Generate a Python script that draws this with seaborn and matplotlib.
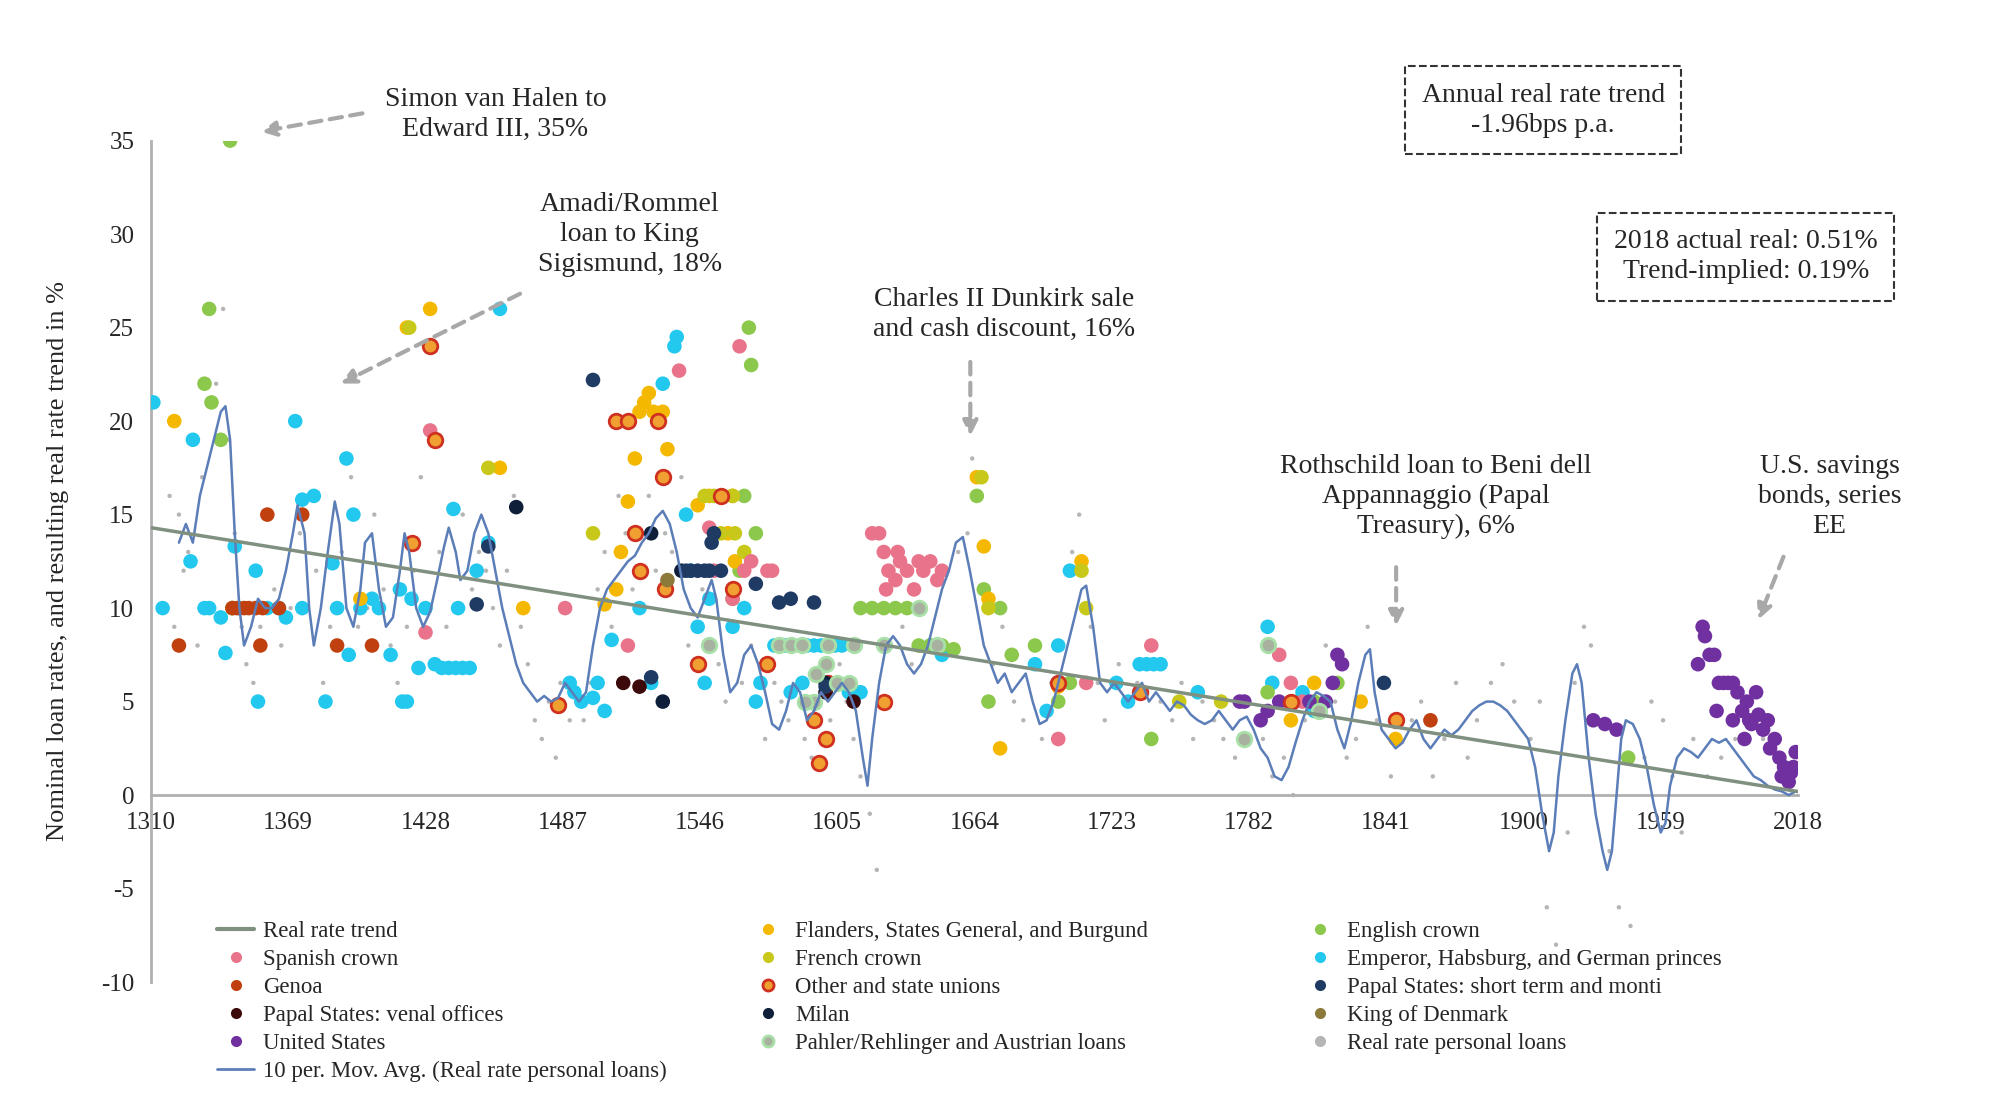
import matplotlib
matplotlib.use("Agg")
import matplotlib.pyplot as plt
import seaborn as sns
import pandas as pd
from matplotlib.lines import Line2D

sns.set_theme(style="white")
plt.rcParams['font.family'] = ['Liberation Serif', 'DejaVu Serif']
plt.rcParams['axes.unicode_minus'] = False

# ---------------- data ----------------
trend_years = [1310, 2018]
trend_vals = [14.3, 0.19]

ma_years = [1322,1325,1328,1331,1334,1337,1340,1342,1344,1346,1348,1350,1353,1356,1359,1362,1365,1368,1371,1373,1376,1378,1380,1383,1386,1389,1391,1394,1397,1400,1402,1405,1408,1411,1414,1417,1419,1421,1424,1427,1430,1433,1436,1438,1441,1443,1446,1449,1452,1455,1458,1461,1464,1467,1470,1473,1476,1479,1482,1485,1488,1491,1494,1497,1500,1503,1506,1509,1512,1515,1518,1521,1524,1527,1530,1533,1536,1539,1542,1545,1548,1551,1553,1556,1559,1562,1565,1568,1571,1574,1577,1580,1583,1586,1589,1592,1595,1598,1601,1604,1607,1610,1613,1616,1618,1620,1623,1626,1629,1632,1635,1638,1641,1644,1647,1650,1653,1656,1659,1662,1665,1668,1671,1674,1677,1680,1683,1686,1689,1692,1695,1698,1701,1704,1707,1710,1712,1715,1718,1721,1724,1727,1730,1733,1736,1739,1742,1745,1748,1751,1754,1757,1760,1763,1766,1769,1772,1775,1778,1781,1784,1787,1790,1793,1796,1799,1802,1805,1808,1811,1814,1817,1820,1823,1826,1829,1832,1834,1836,1839,1842,1845,1848,1851,1854,1857,1860,1863,1866,1869,1872,1875,1878,1881,1884,1887,1890,1893,1896,1899,1902,1905,1908,1911,1913,1915,1918,1921,1923,1925,1928,1931,1934,1936,1938,1940,1942,1944,1947,1950,1953,1956,1959,1961,1963,1966,1969,1972,1975,1978,1981,1984,1987,1990,1993,1996,1999,2002,2005,2008,2011,2014,2017]
ma_vals = [13.5,14.5,13.5,16,17.5,19,20.5,20.8,19,14,10,8,9,10.5,10,10,10.5,12,14,15.5,14,10,8,10,13,15.7,14.5,10,9,11,13.5,14,11,9,9.5,12,14,13,10,9,9.8,11.5,13.3,14.3,13,11.5,12,14,15,14,12,10,8.5,7,6,5.5,5,5.3,5,5.2,6,5.5,5,5.5,8,10,11,11.5,12,12.5,12.8,13.5,14,14.8,15.2,14.5,13,11,10,9.5,10.5,11.5,10.5,7.5,5.5,6,7.5,8,7,5.5,3.8,3.5,4.5,6,5.5,4,4.5,5.5,5,5.5,6,5.5,4.5,2,0.5,3,6,8,8.5,8,7,6.5,7,8,9.5,11,12,13.5,13.8,12,10,8,7,6,6.5,5.5,6,6.5,5,3.8,4,5,6.5,8,9.5,11,11.2,9,6,5.5,6,5.5,5,5.5,6,5,5.5,5,4.5,5,4.8,4.3,4,3.8,4,4.5,4,3.5,4,4.2,3.5,2.5,2,1,0.8,1.5,2.8,4,5,5.5,5.3,5,3.5,2.5,4,6,7.5,7.8,5.5,3.5,3,2.5,2.8,3.5,4,3,2.5,3,3.5,3.2,3.5,4,4.5,4.8,5,5,4.8,4.5,4,3.5,3,1.5,-1,-3,-2,1,4,6.5,7,6,2,-1,-3,-4,-3,0,3,4,3.8,3,1.5,-0.5,-2,-1.5,0.5,2,2.5,2.3,2,2.5,3,2.8,3,2.5,2,1.5,1,0.8,0.5,0.3,0.2,0,0.2]

personal_years = [1318,1320,1322,1324,1326,1330,1332,1338,1341,1343,1346,1349,1351,1354,1357,1360,1363,1366,1370,1374,1377,1381,1384,1387,1392,1396,1399,1403,1406,1410,1413,1416,1420,1423,1426,1431,1434,1437,1444,1448,1451,1454,1457,1460,1463,1466,1469,1472,1475,1478,1481,1484,1486,1490,1493,1496,1499,1502,1505,1508,1511,1514,1517,1521,1524,1527,1531,1534,1538,1541,1544,1547,1551,1554,1557,1561,1564,1568,1571,1574,1578,1581,1584,1588,1591,1594,1598,1602,1606,1609,1612,1615,1619,1622,1626,1633,1637,1643,1652,1657,1661,1663,1668,1672,1676,1681,1685,1688,1693,1697,1702,1706,1709,1714,1717,1720,1726,1729,1734,1738,1744,1749,1753,1758,1762,1767,1771,1776,1780,1785,1788,1792,1797,1801,1806,1810,1815,1819,1824,1828,1833,1837,1843,1847,1852,1856,1861,1866,1871,1876,1880,1886,1891,1896,1903,1907,1910,1914,1919,1922,1926,1929,1933,1937,1941,1946,1952,1955,1960,1964,1968,1973,1979,1985,1991,1997,2003,2009,2015]
personal_vals = [16,9,15,12,13,8,17,22,26,19,14,9,7,6,9,10,11,8,10,14,16,12,6,9,13,17,9,10,15,11,8,6,9,12,17,7,13,9,15,11,13,12,10,8,12,16,9,7,4,3,5,2,6,4,5,4,6,11,13,9,16,14,11,14,16,12,14,13,17,8,9,11,12,7,5,9,6,8,5,3,6,5,4,6,3,2,5,4,7,5,3,1,-1,-4,5,9,7,8,12,13,14,18,11,7,9,5,4,7,3,6,8,13,15,9,6,4,7,5,6,3,5,4,6,3,5,4,3,2,5,4,3,1,2,0,4,6,8,5,2,3,9,4,1,3,4,5,1,3,6,2,4,6,7,5,3,5,-6,-8,-2,6,9,8,4,-3,-6,-7,2,5,4,1,-2,3,1,2,3,4,3,2,1,1]

english_years = [1333,1335,1336,1340,1344,1567,1568,1565,1570,1563,1560,1615,1620,1625,1630,1635,1640,1645,1650,1655,1665,1668,1670,1675,1680,1690,1700,1705,1740,1790,1800,1810,1820,1945]
english_vals = [22,26,21,19,35,25,23,16,14,12,10.5,10,10,10,10,10,8,8,8,7.8,16,11,5,10,7.5,8,5,6,3,5.5,5,5,6,2]
flanders_years = [1320,1345,1400,1420,1430,1460,1470,1505,1510,1512,1515,1518,1520,1522,1524,1526,1528,1530,1532,1545,1550,1555,1560,1558,1561,1665,1668,1670,1675,1700,1710,1800,1810,1830,1845]
flanders_vals = [20,10,10.5,25,26,17.5,10,10.2,11,13,15.7,18,20.5,21,21.5,20.5,20,20.5,18.5,15.5,16,16,16,14,12.5,17,13.3,10.5,2.5,5.8,12.5,4,6,5,3]
french_years = [1421,1455,1500,1548,1552,1556,1560,1555,1561,1565,1667,1670,1710,1712,1752,1770]
french_vals = [25,17.5,14,16,16,16,16,14,14,13,17,10,12,10,5,5]
spanish_years = [1428,1430,1488,1515,1537,1550,1552,1560,1563,1565,1568,1575,1577,1620,1623,1625,1627,1630,1632,1635,1638,1640,1642,1645,1648,1650,1626,1631,1700,1712,1740,1795,1800,1805]
spanish_vals = [8.7,19.5,10,8,22.7,14.3,12,10.5,24,12,12.5,12,12,14,14,13,12,11.5,12.5,12,11,12.5,12,12.5,11.5,12,11,13,3,6,8,7.5,6,5]
genoa_years = [1322,1345,1347,1350,1352,1355,1358,1357,1360,1365,1375,1390,1405,1860]
genoa_vals = [8,10,10,10,10,10,10,8,15,10,15,8,8,4]
venal_years = [1513,1520,1600,1612]
venal_vals = [6,5.8,5.5,5]
us_years = [1778,1780,1787,1790,1795,1808,1815,1818,1820,1822,1930,1935,1940,1975,1977,1978,1980,1982,1983,1984,1986,1988,1990,1990,1992,1994,1995,1996,1997,1998,2000,2001,2003,2005,2006,2008,2010,2011,2012,2013,2014,2015,2016,2017]
us_vals = [5,5,4,4.5,5,5,5,6,7.5,7,4,3.8,3.5,7,9,8.5,7.5,7.5,4.5,6,6,6,6,4,5.5,4.5,3,5,4,3.8,5.5,4.3,3.5,4,2.5,3,2,1,1.5,1,0.7,1.2,1.5,2.3]
other_years = [1430,1432,1422,1485,1510,1515,1518,1520,1528,1530,1531,1545,1555,1560,1575,1595,1597,1600,1601,1625,1700,1735,1800,1845]
other_vals = [24,19,13.5,4.8,20,20,14,12,20,17,11,7,16,11,7,4,1.7,3,6,5,6,5.5,5,4]
milan_years = [1467,1525,1530,1538,1600]
milan_vals = [15.4,14,5,12,6]
emperor_years = [1311,1315,1328,1327,1333,1335,1340,1342,1345,1346,1348,1355,1356,1360,1365,1368,1372,1375,1375,1380,1385,1388,1390,1394,1395,1397,1400,1405,1408,1413,1417,1418,1420,1422,1425,1428,1432,1435,1438,1441,1444,1447,1440,1442,1450,1455,1460,1490,1492,1495,1500,1502,1505,1508,1520,1525,1530,1535,1536,1540,1542,1545,1548,1550,1555,1560,1565,1570,1572,1575,1578,1580,1583,1586,1589,1592,1595,1598,1601,1604,1607,1585,1590,1600,1610,1615,1645,1650,1690,1695,1700,1705,1725,1730,1735,1738,1741,1744,1760,1790,1792,1800,1805,1810]
emperor_vals = [21,10,19,12.5,10,10,9.5,7.6,10,13.3,10,12,5,10,10,9.5,20,10,15.8,16,5,12.4,10,18,7.5,15,10,10.5,10,7.5,11,5,5,10.5,6.8,10,7,6.8,6.8,6.8,6.8,6.8,15.3,10,12,13.5,26,6,5.5,5,5.2,6,4.5,8.3,10,6,22,24,24.5,15,12,9,6,10.5,16,9,10,5,6,7,8,8,8,8,8,8,8,8,8,8,8,5.5,6,5.5,5.5,5.5,8,7.5,7,4.5,8,12,6,5,7,7,7,7,5.5,9,6,5,5.5,4.5]
papalst_years = [1500,1525,1540,1542,1545,1548,1550,1552,1551,1555,1570,1580,1585,1595,1600,1455,1450,1840]
papalst_vals = [22.2,6.3,12,12,12,12,12,14,13.5,12,11.3,10.3,10.5,10.3,5.8,13.3,10.2,6]
denmark_years = [1532,1812]
denmark_vals = [11.5,4.5]
pahler_years = [1550,1580,1585,1590,1595,1600,1605,1610,1591,1596,1601,1612,1625,1640,1648,1780,1790,1812]
pahler_vals = [8,8,8,8,5,7,6,6,5,6.5,8,8,8,10,8,3,8,4.5]

x_ticks = [1310,1369,1428,1487,1546,1605,1664,1723,1782,1841,1900,1959,2018]
y_ticks = [-10,-5,0,5,10,15,20,25,30,35]


def pairs(xs, ys):
    n = min(len(xs), len(ys))
    return pd.DataFrame({'x': list(xs)[:n], 'y': list(ys)[:n]})

# ---------------- plot ----------------
fig = plt.figure(figsize=(20, 11.16), dpi=100)
ax = fig.add_axes([0.0755, 0.12, 0.8235, 0.754])

S = 110
def sc(xs, ys, color, label, edge=None, lw=0, s=S, z=3):
    d = pairs(xs, ys)
    sns.scatterplot(data=d, x='x', y='y', ax=ax, color=color, s=s, edgecolor=edge if edge else 'none',
                    linewidth=lw, zorder=z, legend=False)
    return Line2D([], [], marker='o', ls='none', markersize=8, markerfacecolor=color,
                  markeredgecolor=edge if edge else color, markeredgewidth=lw if edge else 0, label=label)

h_pers = sc(personal_years, personal_vals, '#b5b5b5', 'Real rate personal loans', s=10, z=2)
h_emp = sc(emperor_years, emperor_vals, '#22c8ee', 'Emperor, Habsburg, and German princes')
h_eng = sc(english_years, english_vals, '#8cc84b', 'English crown')
h_fla = sc(flanders_years, flanders_vals, '#f5b800', 'Flanders, States General, and Burgund')
h_fre = sc(french_years, french_vals, '#c8c81a', 'French crown')
h_spa = sc(spanish_years, spanish_vals, '#e8738a', 'Spanish crown')
h_gen = sc(genoa_years, genoa_vals, '#c0410f', 'Genoa')
h_ven = sc(venal_years, venal_vals, '#3c0a0a', 'Papal States: venal offices')
h_us = sc(us_years, us_vals, '#7030a0', 'United States')
h_oth = sc(other_years, other_vals, '#f0a030', 'Other and state unions', edge='#d03020', lw=2)
h_mil = sc(milan_years, milan_vals, '#0f1f3a', 'Milan')
h_pst = sc(papalst_years, papalst_vals, '#1f3b64', 'Papal States: short term and monti')
h_den = sc(denmark_years, denmark_vals, '#8b7a3a', 'King of Denmark')
h_pah = sc(pahler_years, pahler_vals, '#a8b0a0', 'Pahler/Rehlinger and Austrian loans', edge='#a8e0a8', lw=2)

sns.lineplot(data=pairs(ma_years, ma_vals), x='x', y='y', ax=ax, color='#5b7db8', lw=1.8, sort=False, estimator=None, zorder=4)
sns.lineplot(data=pairs(trend_years, trend_vals), x='x', y='y', ax=ax, color='#7f9080', lw=2.5, sort=False, estimator=None, zorder=5)
h_ma = Line2D([], [], color='#5b7db8', lw=2, label='10 per. Mov. Avg. (Real rate personal loans)')
h_tr = Line2D([], [], color='#7f9080', lw=3, label='Real rate trend')

ax.set_xlim(1310, 2018)
ax.set_ylim(-10, 35)
ax.set_xticks(x_ticks)
ax.set_yticks(y_ticks)
ax.set_xlabel('')
ax.tick_params(length=0, labelsize=18, pad=12)
ax.spines['top'].set_visible(False)
ax.spines['right'].set_visible(False)
ax.spines['bottom'].set_position(('data', 0))
ax.spines['bottom'].set_color('#b0b0b0')
ax.spines['left'].set_color('#b0b0b0')
ax.spines['bottom'].set_linewidth(2)
ax.spines['left'].set_linewidth(2)
ax.set_ylabel('Nominal loan rates, and resulting real rate trend in %', fontsize=19)
ax.yaxis.set_label_coords(-0.05, 0.5)

cols = [[h_tr, h_spa, h_gen, h_ven, h_us, h_ma],
        [h_fla, h_fre, h_oth, h_mil, h_pah],
        [h_eng, h_emp, h_pst, h_den, h_pers]]
xs = [0.103, 0.369, 0.645]
for hs, x0 in zip(cols, xs):
    fig.legend(handles=hs, loc='upper left', bbox_to_anchor=(x0, 0.185), frameon=False,
               fontsize=16.5, labelspacing=0.3, handlelength=1.6, handletextpad=0.4, borderpad=0)

fs = 20
arr = dict(arrowstyle='-|>', linestyle=(0, (3, 2)), color='#a8a8a8', lw=3, mutation_scale=22)
def fx(px): return px / 1550
def fy(py): return 1 - py / 870
fig.text(fx(384), fy(89), 'Simon van Halen to\nEdward III, 35%', ha='center', va='center', fontsize=fs, linespacing=1.25)
fig.text(fx(488), fy(183), 'Amadi/Rommel\nloan to King\nSigismund, 18%', ha='center', va='center', fontsize=fs, linespacing=1.25)
fig.text(fx(778), fy(245), 'Charles II Dunkirk sale\nand cash discount, 16%', ha='center', va='center', fontsize=fs, linespacing=1.25)
fig.text(fx(1113), fy(387), 'Rothschild loan to Beni dell\nAppannaggio (Papal\nTreasury), 6%', ha='center', va='center', fontsize=fs, linespacing=1.25)
fig.text(fx(1418), fy(387), 'U.S. savings\nbonds, series\nEE', ha='center', va='center', fontsize=fs, linespacing=1.25)
box = dict(boxstyle='square,pad=0.6', fc='white', ec='#333333', ls='--', lw=1.5)
fig.text(fx(1196), fy(86), 'Annual real rate trend\n-1.96bps p.a.', ha='center', va='center', fontsize=fs, linespacing=1.25, bbox=box)
fig.text(fx(1353), fy(200), '2018 actual real: 0.51%\nTrend-implied: 0.19%', ha='center', va='center', fontsize=fs, linespacing=1.25, bbox=box)

for (x1, y1, x2, y2) in [(283, 88, 200, 103), (405, 228, 262, 300), (752, 280, 752, 342),
                         (1082, 440, 1082, 490), (1383, 432, 1362, 485)]:
    fig.add_artist(matplotlib.patches.FancyArrowPatch((fx(x1), fy(y1)), (fx(x2), fy(y2)),
                   transform=fig.transFigure, **arr))

fig.savefig('out.png', dpi=100, facecolor='white')
